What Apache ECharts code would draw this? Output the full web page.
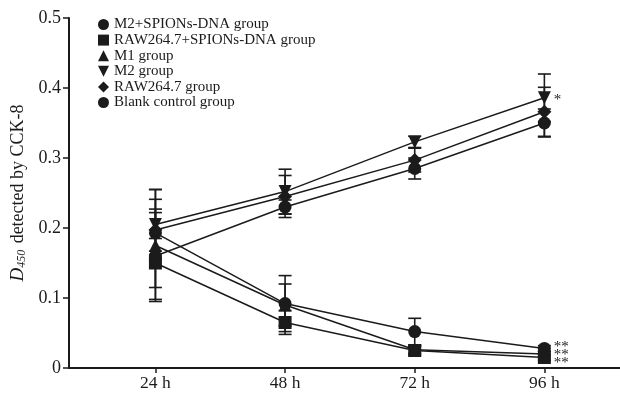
<!DOCTYPE html>
<html>
<head>
<meta charset="utf-8">
<script src="https://cdn.jsdelivr.net/npm/echarts@6/dist/echarts.min.js"></script>
<style>
  html, body { margin: 0; padding: 0; background: #fff; }
  #chart { width: 620px; height: 395px; }
</style>
</head>
<body>
<div id="chart"></div>
<script>
// time points (h) and tick labels
var hours = [24, 48, 72, 96];
var groupNames = ['M2+SPIONs-DNA group', 'RAW264.7+SPIONs-DNA group', 'M1 group', 'M2 group', 'RAW264.7 group', 'Blank control group'];

// mean D450 per group
var m2Spions   = [0.193, 0.092, 0.052, 0.028];
var rawSpions  = [0.150, 0.065, 0.025, 0.015];
var m1Group    = [0.175, 0.090, 0.026, 0.020];
var m2Group    = [0.205, 0.252, 0.323, 0.386];
var rawGroup   = [0.197, 0.245, 0.297, 0.366];
var blankGroup = [0.160, 0.230, 0.285, 0.350];

// error bars (+/-)
var m2SpionsErr   = [0.048, 0.040, 0.019, 0.004];
var rawSpionsErr  = [0.035, 0.017, 0.006, 0.004];
var m1GroupErr    = [0.080, 0.030, 0.005, 0.004];
var m2GroupErr    = [0.050, 0.032, 0.008, 0.034];
var rawGroupErr   = [0.030, 0.030, 0.017, 0.035];
var blankGroupErr = [0.062, 0.010, 0.015, 0.020];

// significance marks at 96 h
var sigMarks = ['**', '**', '**', '*', '', ''];

var means = [m2Spions, rawSpions, m1Group, m2Group, rawGroup, blankGroup];
var errs = [m2SpionsErr, rawSpionsErr, m1GroupErr, m2GroupErr, rawGroupErr, blankGroupErr];
var symbols = ['circle', 'rect', 'triangle', 'triangle', 'diamond', 'circle'];
var rotates = [0, 0, 0, 180, 0, 0];
var legendIcons = ['circle', 'rect', 'triangle', 'path://M0,0L10,0L5,10Z', 'diamond', 'circle'];
var labelOffsets = [[0, -1], [0, 6], [0, 1], [0, 2], [0, 0], [0, 0]];

var ink = '#1b1b1b';
var serif = 'Liberation Serif';

var chart = echarts.init(document.getElementById('chart'));

var series = [];
// error bars first so the markers sit on top
for (var i = 0; i < means.length; i++) {
  var eb = [];
  for (var j = 0; j < hours.length; j++) {
    eb.push([hours[j], means[i][j] - errs[i][j], means[i][j] + errs[i][j]]);
  }
  series.push({
    type: 'custom',
    name: groupNames[i],
    z: 1,
    silent: true,
    data: eb,
    renderItem: function (params, api) {
      var lo = api.coord([api.value(0), api.value(1)]);
      var hi = api.coord([api.value(0), api.value(2)]);
      var w = 6.5;
      var st = { stroke: ink, lineWidth: 1.6 };
      return {
        type: 'group',
        children: [
          { type: 'line', shape: { x1: lo[0], y1: lo[1], x2: hi[0], y2: hi[1] }, style: st },
          { type: 'line', shape: { x1: lo[0] - w, y1: lo[1], x2: lo[0] + w, y2: lo[1] }, style: st },
          { type: 'line', shape: { x1: hi[0] - w, y1: hi[1], x2: hi[0] + w, y2: hi[1] }, style: st }
        ]
      };
    }
  });
}
for (var i = 0; i < means.length; i++) {
  var pts = [];
  for (var j = 0; j < hours.length; j++) pts.push([hours[j], means[i][j]]);
  (function (mark, off) {
    series.push({
      type: 'line',
      name: groupNames[i],
      z: 3,
      data: pts,
      symbol: symbols[i],
      symbolRotate: rotates[i],
      symbolSize: symbols[i] === 'diamond' ? 14 : 13,
      lineStyle: { color: ink, width: 1.5 },
      itemStyle: { color: ink },
      label: {
        show: true,
        position: 'right',
        distance: 3,
        offset: off,
        color: ink,
        fontFamily: serif,
        fontSize: 15,
        formatter: function (p) { return p.dataIndex === 3 ? mark : ''; }
      }
    });
  })(sigMarks[i], labelOffsets[i]);
}

var option = {
  backgroundColor: '#fff',
  animation: false,
  grid: { left: 69, right: 0, top: 18, bottom: 27 },
  legend: {
    orient: 'vertical',
    left: 98,
    top: 17,
    itemWidth: 11,
    itemHeight: 11,
    itemGap: 0.6,
    padding: 0,
    data: groupNames.map(function (n, k) { return { name: n, icon: legendIcons[k] }; }),
    itemStyle: { color: ink },
    textStyle: { fontFamily: serif, fontSize: 15, lineHeight: 15, color: ink }
  },
  xAxis: {
    type: 'value',
    min: 8,
    max: 110,
    splitLine: { show: false },
    axisLine: { lineStyle: { color: ink, width: 2 } },
    axisTick: { customValues: hours, length: 5, lineStyle: { color: ink, width: 1.5 } },
    axisLabel: {
      customValues: hours,
      formatter: function (v) { return v + ' h'; },
      fontFamily: serif, fontSize: 17.5, color: ink, margin: 6
    }
  },
  yAxis: {
    type: 'value',
    min: 0,
    max: 0.5,
    interval: 0.1,
    splitLine: { show: false },
    axisLine: { show: true, lineStyle: { color: ink, width: 2 } },
    axisTick: { show: true, length: 6, lineStyle: { color: ink, width: 1.5 } },
    axisLabel: { fontFamily: serif, fontSize: 18, color: ink, margin: 8 },
    name: '{d|D}{s|450} detected by CCK-8',
    nameLocation: 'middle',
    nameRotate: 90,
    nameGap: 38,
    nameTextStyle: {
      fontFamily: serif, fontSize: 18, color: ink,
      rich: {
        d: { fontFamily: serif, fontStyle: 'italic', fontSize: 19, color: ink },
        s: { fontFamily: serif, fontStyle: 'italic', fontSize: 12, color: ink, padding: [0, 2, 0, 0], verticalAlign: 'bottom' }
      }
    }
  },
  series: series
};
chart.setOption(option);
</script>
</body>
</html>
